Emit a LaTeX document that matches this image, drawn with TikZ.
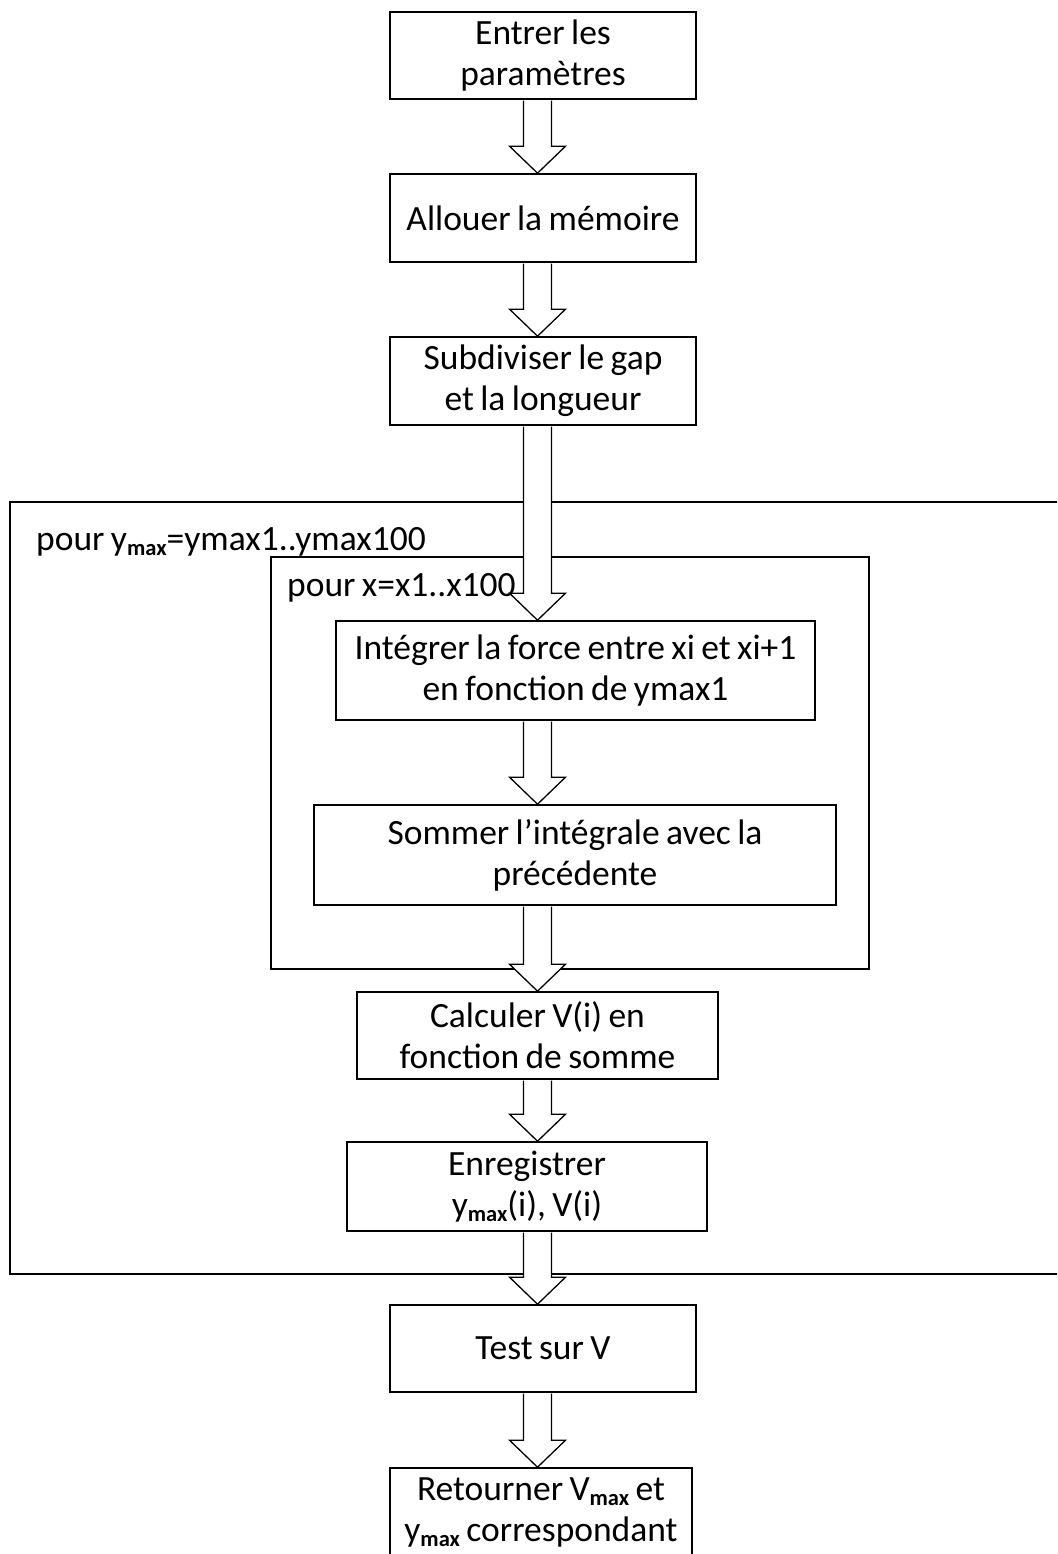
\documentclass[tikz,border=0pt]{standalone}
\usepackage{fontspec}
\setmainfont[WordSpace=0.8]{Carlito}
\usetikzlibrary{calc}
\newcommand\mx{\raisebox{-0.3ex}{\fontsize{22.5}{22.5}\selectfont\bfseries max}}
\newcommand\txtsize{\fontsize{35.5}{41}\selectfont}
\newcommand\blockarrow[2]{%
  \path[barrow] ($(#1.south -| ax)+(-14,0.8)$) -- ($(#2.north -| ax)+(-14,-27)$) -- ($(#2.north -| ax)+(-28,-27)$) -- (#2.north -| ax) -- ($(#2.north -| ax)+(28,-27)$) -- ($(#2.north -| ax)+(14,-27)$) -- ($(#1.south -| ax)+(14,0.8)$);}
\begin{document}
\begin{tikzpicture}[x=1pt,y=-1pt,
  box/.style={draw, line width=1.6pt, fill=white, align=center, inner sep=0pt, font=\txtsize},
  loopbox/.style={draw, line width=1.6pt, inner sep=0pt},
  barrow/.style={draw, line width=1.3pt, fill=white, line join=miter},
  lbl/.style={anchor=base west, inner sep=0pt, font=\txtsize}]
\useasboundingbox (0,0) rectangle (1057,1554);
\clip (0,0) rectangle (1057,1554);
\coordinate (ax) at (537.5,0);
% loop frames
\node[loopbox, minimum width=1080pt, minimum height=772pt] (outer) at (550,888) {};
\node[loopbox, minimum width=598pt, minimum height=412pt] (inner) at (570,763) {};
\node[lbl] (louter) at (36,550) {pour y\mx=ymax1..ymax100};
\node[lbl] (linner) at (287,596) {pour x=x1..x100};
% steps
\node[box, minimum width=306pt, minimum height=87pt] (b1) at (543,55.5) {Entrer les\\paramètres};
\node[box, minimum width=306pt, minimum height=88pt] (b2) at (543,218) {Allouer la mémoire};
\node[box, minimum width=306pt, minimum height=88pt] (b3) at (543,381) {Subdiviser le gap\\et la longueur};
\node[box, minimum width=479pt, minimum height=99pt] (b4) at (575.5,670.5) {Intégrer la force entre xi et xi+1\\en fonction de ymax1};
\node[box, minimum width=522pt, minimum height=100pt] (b5) at (575,855) {Sommer l’intégrale avec la\\précédente};
\node[box, minimum width=361pt, minimum height=87pt] (b6) at (537.5,1035.5) {Calculer V(i) en\\fonction de somme};
\node[box, minimum width=360pt, minimum height=89pt] (b7) at (527,1186.5) {Enregistrer\\y\mx(i), V(i)};
\node[box, minimum width=306pt, minimum height=87pt] (b8) at (543,1348.5) {Test sur V};
\node[box, minimum width=302pt, minimum height=88pt] (b9) at (541,1512) {Retourner V\mx\ et\\y\mx\ correspondant};
% arrows
\blockarrow{b1}{b2}
\blockarrow{b2}{b3}
\blockarrow{b3}{b4}
\blockarrow{b4}{b5}
\blockarrow{b5}{b6}
\blockarrow{b6}{b7}
\blockarrow{b7}{b8}
\blockarrow{b8}{b9}
\end{tikzpicture}
\end{document}
